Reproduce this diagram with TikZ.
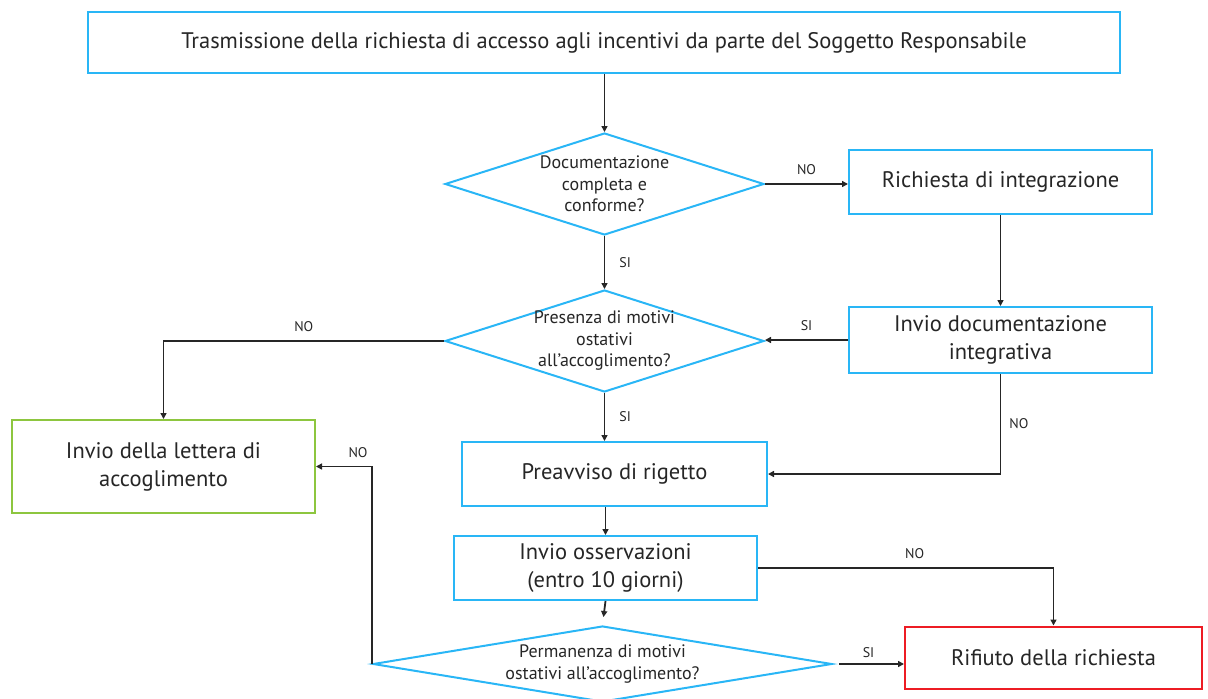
\documentclass[tikz,border=0pt]{standalone}
\usepackage{fontspec}
\setmainfont{PT Sans}
\usetikzlibrary{shapes.geometric,arrows.meta}
\definecolor{azzurro}{RGB}{41,182,246}
\definecolor{verdino}{RGB}{141,198,63}
\definecolor{rosso}{RGB}{237,28,36}
\definecolor{testo}{RGB}{38,38,38}
\newcommand{\grande}{\fontsize{22.5}{28}\selectfont}
\newcommand{\medio}{\fontsize{18}{21.5}\selectfont}
\tikzset{
  blocco/.style={draw=azzurro, line width=2pt, fill=white, text=testo, align=center, font=\grande},
  rombo/.style={diamond, draw=azzurro, line width=2pt, text=testo, align=center, inner xsep=0pt, inner ysep=-6pt, font=\medio},
  freccia/.style={draw=black!85, line width=1.8pt, -{Triangle[length=6pt,width=6pt]}},
  etichetta/.style={text=testo, font=\fontsize{14}{16}\selectfont, inner sep=3pt}
}

\begin{document}
\begin{tikzpicture}[x=1pt,y=-1pt]
    \useasboundingbox (0,0) rectangle (1208,699);
    \node[blocco, minimum width=1032, minimum height=61] (trasm) at (604,42.5) {Trasmissione della richiesta di accesso agli incentivi da parte del Soggetto Responsabile};
    \node[rombo, minimum width=319, minimum height=102, aspect=3.1] (docum) at (604.5,184) {Documentazione\\completa e\\conforme?};
    \node[blocco, minimum width=303, minimum height=64] (richiesta) at (1000.5,182) {Richiesta di integrazione};
    \node[blocco, minimum width=303, minimum height=66] (inviodoc) at (1000.5,340) {Invio documentazione\\integrativa};
    \node[rombo, minimum width=319, minimum height=102, aspect=3.1] (presenza) at (604.5,341) {Presenza di motivi\\ostativi\\all’accoglimento?};
    \node[blocco, draw=verdino, minimum width=303, minimum height=93] (lettera) at (163.5,466.5) {Invio della lettera di\\accoglimento};
    \node[blocco, minimum width=305, minimum height=64] (preavviso) at (614.5,474) {Preavviso di rigetto};
    \node[blocco, minimum width=303, minimum height=64] (osserv) at (605.5,568) {Invio osservazioni\\(entro 10 giorni)};
    \node[rombo, minimum width=459, minimum height=76, aspect=6] (permanenza) at (602.5,664) {Permanenza di motivi\\ostativi all’accoglimento?};
    \node[blocco, draw=rosso, minimum width=297, minimum height=62] (rifiuto) at (1053.5,657.5) {Rifiuto della richiesta};

    \draw[freccia] (trasm.south -| docum.north) -- (docum.north);
    \draw[freccia] (docum.east) -- node[etichetta, above, yshift=5pt] (no1) {NO} (docum.east -| richiesta.west);
    \draw[freccia] (richiesta.south) -- (inviodoc.north);
    \draw[freccia] (docum.south) -- node[etichetta, right, xshift=11pt] (si1) {SI} (presenza.north);
    \draw[freccia] (inviodoc.west) -- node[etichetta, above, yshift=5pt] (si2) {SI} (inviodoc.west -| presenza.east);
    \draw[freccia] (presenza.west) -- node[etichetta, above, yshift=5pt] (no2) {NO} (presenza.west -| lettera.north) -- (lettera.north);
    \draw[freccia] (presenza.south) -- node[etichetta, right, xshift=11pt] (si3) {SI} (presenza.south |- preavviso.north);
    \draw[freccia] (inviodoc.south) -- node[etichetta, right, xshift=5pt] (no3) {NO} (inviodoc.south |- preavviso.east) -- (preavviso.east);
    \draw[freccia] (osserv.north |- preavviso.south) -- (osserv.north);
    \draw[freccia] (osserv.east) -- node[etichetta, above, pos=0.53, yshift=5pt] (no4) {NO} (osserv.east -| rifiuto.north) -- (rifiuto.north);
    \draw[freccia, shorten >=8pt] (osserv.south) -- (permanenza.north);
    \draw[freccia] (permanenza.west) -- (permanenza.west |- lettera.east) -- node[etichetta, above, pos=0.25, yshift=5pt] (no5) {NO} (lettera.east);
    \draw[freccia, shorten <=6pt] (permanenza.east) -- node[etichetta, above, yshift=2pt] (si4) {SI} (permanenza.east -| rifiuto.west);
\end{tikzpicture}
\end{document}
